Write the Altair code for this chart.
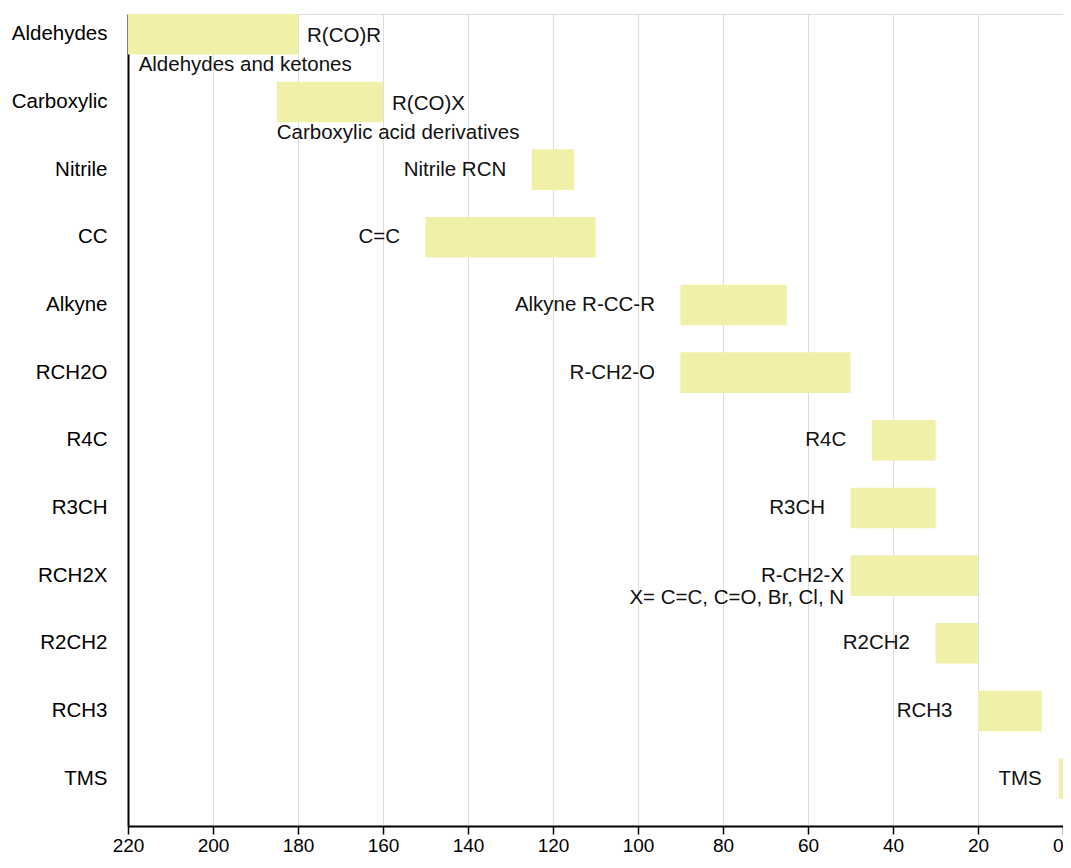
import altair as alt
import pandas as pd

# ---- data (chemical shift ranges, ppm) ----
groups = ["Aldehydes", "Carboxylic", "Nitrile", "CC", "Alkyne", "RCH2O",
          "R4C", "R3CH", "RCH2X", "R2CH2", "RCH3", "TMS"]
shift_from = [220, 185, 125, 150, 90, 90, 45, 50, 50, 30, 20, 1]
shift_to = [180, 160, 115, 110, 65, 50, 30, 30, 20, 20, 5, -1]

# labels placed to the right of the bar end
after_group = ["Aldehydes", "Carboxylic"]
after_text = ["R(CO)R", "R(CO)X"]
after_at = [180, 160]

# labels placed below the bar
below_group = ["Aldehydes", "Carboxylic"]
below_text = ["Aldehydes and ketones", "Carboxylic acid derivatives"]
below_at = [217.5, 185]

# labels placed to the left of the bar start
before_group = ["Nitrile", "CC", "Alkyne", "RCH2O", "R4C", "R3CH",
                "RCH2X", "R2CH2", "RCH3", "TMS"]
before_text = ["Nitrile RCN", "C=C", "Alkyne R-CC-R", "R-CH2-O", "R4C", "R3CH",
               "R-CH2-X\nX= C=C, C=O, Br, Cl, N", "R2CH2", "RCH3", "TMS"]
before_at = [131, 156, 96, 96, 51, 56, 51.5, 36, 26, 5]

tick_values = list(range(0, 221, 20))

bars_df = pd.DataFrame({"group": groups, "start": shift_from, "end": shift_to})
after_df = pd.DataFrame({"group": after_group, "text": after_text, "at": after_at})
below_df = pd.DataFrame({"group": below_group, "text": below_text, "at": below_at})
before_df = pd.DataFrame({"group": before_group, "text": before_text, "at": before_at})

FONT = "Liberation Sans"
FS = 20.5

xscale = alt.Scale(domain=[0, 220], reverse=True, nice=False, zero=False)
yscale = alt.Scale(paddingInner=0.4, paddingOuter=0.2, align=0)

bars = alt.Chart(bars_df).mark_bar(color="#F0F0A8").encode(
    x=alt.X("start:Q", scale=xscale,
            axis=alt.Axis(title=None, values=tick_values, tickSize=8,
                          tickColor="black", tickWidth=1.5,
                          domainColor="black", domainWidth=2,
                          grid=True, gridColor="#dddddd", gridWidth=1,
                          labelFontSize=19, labelFont=FONT, labelColor="black",
                          labelPadding=2, labelFlush=False, labelOverlap=False,
                          labelAlign=alt.ExprRef(expr="datum.value == 0 ? 'right' : 'center'"))),
    x2="end:Q",
    y=alt.Y("group:N", sort=groups, scale=yscale,
            axis=alt.Axis(title=None, ticks=False, labelPadding=21,
                          labelFontSize=FS, labelFont=FONT, labelColor="black",
                          domainColor="black", domainWidth=2, grid=False)),
)

after = alt.Chart(after_df).mark_text(
    align="left", baseline="middle", dx=9, dy=2, fontSize=FS, font=FONT, color="#111"
).encode(
    x=alt.X("at:Q", scale=xscale),
    y=alt.Y("group:N", sort=groups),
    text="text:N",
)

below = alt.Chart(below_df).mark_text(
    align="left", baseline="middle", dy=31, fontSize=FS, font=FONT, color="#111"
).encode(
    x=alt.X("at:Q", scale=xscale),
    y=alt.Y("group:N", sort=groups),
    text="text:N",
)

before = alt.Chart(before_df).mark_text(
    align="right", baseline="middle", fontSize=FS, font=FONT, color="#111",
    lineBreak="\n", lineHeight=22
).encode(
    x=alt.X("at:Q", scale=xscale),
    y=alt.Y("group:N", sort=groups),
    text="text:N",
)

chart = alt.layer(bars, after, below, before).properties(
    width=935, height=812,
    autosize=alt.AutoSizeParams(type="none"),
    padding={"left": 120, "top": 6, "right": 0, "bottom": 34},
).configure_view(strokeWidth=0).configure(background="white")

chart.save("out.html", embed_options={"renderer": "svg", "actions": False})
